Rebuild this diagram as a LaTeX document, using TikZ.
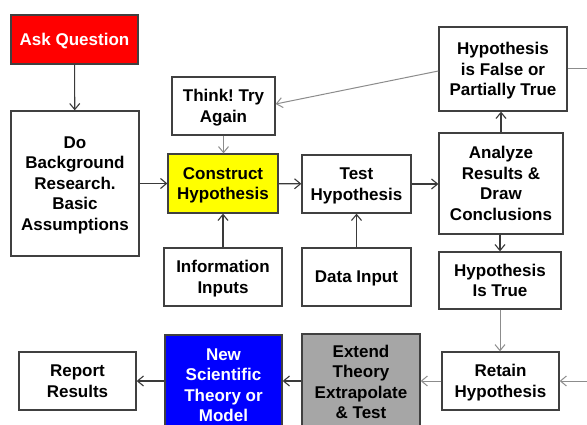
\documentclass[tikz,border=0pt]{standalone}
\usepackage{fontspec}
\setmainfont{Liberation Sans}
\usetikzlibrary{arrows.meta}
\definecolor{boxline}{HTML}{404040}
\definecolor{darkline}{HTML}{3A3A3A}
\definecolor{lightline}{HTML}{8C8C8C}
\definecolor{askred}{HTML}{FF0000}
\definecolor{hypyellow}{HTML}{FFFF00}
\definecolor{theoryblue}{HTML}{0000FF}
\definecolor{extendgray}{HTML}{A6A6A6}
\begin{document}
\frenchspacing
\begin{tikzpicture}[x=1pt,y=-1pt,
  font=\bfseries\fontsize{17}{20.5}\selectfont,
  box/.style={draw=boxline, line width=1.3pt, align=center, inner sep=0pt, text depth=0pt, fill=white},
  darkarrow/.style={draw=darkline, line width=1.1pt, -{Straight Barb[length=6pt,width=10pt]}},
  lightarrow/.style={draw=lightline, line width=1pt, -{Straight Barb[length=6pt,width=10pt]}},
  lightline/.style={draw=lightline, line width=1pt},
  darkline/.style={draw=darkline, line width=1.1pt}]
\fill[white] (0,0) rectangle (587,425);
\useasboundingbox (0,0) rectangle (587,425);

% main column boxes
\node[box, minimum width=127pt, minimum height=49pt, fill=askred, text=white] (ask) at (74.5,39.5) {Ask Question};
\node[box, minimum width=128pt, minimum height=145pt] (research) at (75,183.5) {Do\\Background\\Research.\\Basic\\Assumptions};
\node[box, minimum width=103pt, minimum height=58pt] (think) at (223.5,106) {Think! Try\\Again};
\node[box, minimum width=110pt, minimum height=59pt, fill=hypyellow] (construct) at (223,183.5) {Construct\\Hypothesis};
\node[box, minimum width=118pt, minimum height=58pt] (info) at (223,277) {Information\\Inputs};
\node[box, minimum width=109pt, minimum height=58pt] (test) at (356.5,184) {Test\\Hypothesis};
\node[box, minimum width=109pt, minimum height=58pt] (data) at (356.5,277) {Data Input};

% right column
\node[box, minimum width=128pt, minimum height=84pt] (false) at (503,69) {Hypothesis\\is False or\\Partially True};
\node[box, minimum width=124pt, minimum height=101pt] (analyze) at (501,183.5) {Analyze\\Results \&\\Draw\\Conclusions};
\node[box, minimum width=122pt, minimum height=57pt] (true) at (500,280.5) {Hypothesis\\Is True};
\node[box, minimum width=117pt, minimum height=58pt] (retain) at (500.5,381) {Retain\\Hypothesis};

% bottom row
\node[box, minimum width=118pt, minimum height=96pt, fill=extendgray] (extend) at (361,382) {Extend\\Theory\\Extrapolate\\\& Test};
\node[box, minimum width=117pt, minimum height=100pt, fill=theoryblue, text=white] (theory) at (223.5,385) {New\\Scientific\\Theory or\\Model};
\node[box, minimum width=117pt, minimum height=58pt] (report) at (77.5,381) {Report\\Results};

% loose ends leaving the right margin
\coordinate (outtop) at (587,69);
\coordinate (outbottom) at (587,381);

% connectors
\draw[darkarrow] (ask) -- (research);
\draw[darkarrow] (research.east |- construct) -- (construct);
\draw[darkarrow] (construct) -- (test);
\draw[darkarrow] (test.east) -- (analyze.west |- test.east);
\draw[darkarrow] (info) -- (construct);
\draw[darkarrow] (data) -- (test);
\draw[lightarrow] (think.south) -- (think.south |- construct.north);
\draw[darkarrow] (analyze.north) -- (analyze.north |- false.south);
\draw[darkarrow] (analyze.south -| true.north) -- (true.north);
\draw[lightarrow] (true.south) -- (true.south |- retain.north);
\draw[lightarrow] ([yshift=-2pt]false.west) -- ([yshift=2pt]think.east);
\draw[lightline] (false.east) -- (outtop);
\draw[lightarrow] (outbottom) -- (retain.east);
\draw[lightarrow] (retain.west) -- (extend.east |- retain.west);
\draw[darkarrow] (extend.west |- retain.west) -- (theory.east |- retain.west);
\draw[darkarrow] (theory.west |- report.east) -- (report.east);
\end{tikzpicture}
\end{document}
